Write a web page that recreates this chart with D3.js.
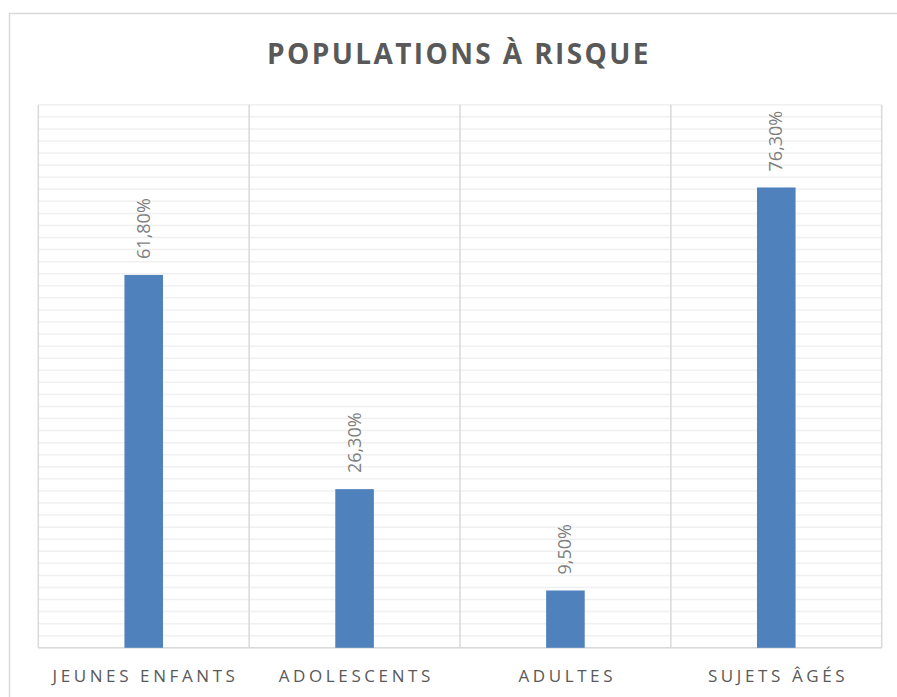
<!DOCTYPE html>
<html>
<head>
<meta charset="utf-8">
<script src="https://cdn.jsdelivr.net/npm/d3@7"></script>
<style>
  body { margin: 0; background: #fff; }
  svg { display: block; }
</style>
</head>
<body>
<div id="chart"></div>
<script>
const title = 'POPULATIONS À RISQUE'
const categories = ['JEUNES ENFANTS', 'ADOLESCENTS', 'ADULTES', 'SUJETS ÂGÉS']
const values = [61.8, 26.3, 9.5, 76.3]
const yMax = 90
const yStep = 2

const width = 897
const height = 697
const plot = { left: 38.3, right: 881.7, top: 104.8, bottom: 647.8 }

const fr = d3.formatLocale({ decimal: ',', thousands: ' ', grouping: [3], currency: ['', ' €'] })
const fmt = v => fr.format('.2f')(v) + '%'

const svg = d3.select('#chart').append('svg')
  .attr('width', width)
  .attr('height', height)

// chart border
svg.append('rect')
  .attr('x', 9.5).attr('y', 13.5)
  .attr('width', width + 20).attr('height', height + 20)
  .attr('fill', '#fff')
  .attr('stroke', '#d9d9d9')
  .attr('stroke-width', 1.5)

const x = d3.scaleBand()
  .domain(categories)
  .range([plot.left, plot.right])
  .paddingInner(0)
  .paddingOuter(0)

const y = d3.scaleLinear()
  .domain([0, yMax])
  .range([plot.bottom, plot.top])

const yTicks = d3.range(0, yMax + yStep / 2, yStep)

// horizontal gridlines
svg.append('g')
  .selectAll('line')
  .data(yTicks)
  .join('line')
  .attr('x1', plot.left).attr('x2', plot.right)
  .attr('y1', d => y(d)).attr('y2', d => y(d))
  .attr('stroke', '#f0f0f0')
  .attr('stroke-width', 1.5)

// vertical gridlines at category boundaries
const bounds = categories.map(c => x(c)).concat([plot.right])
svg.append('g')
  .selectAll('line')
  .data(bounds)
  .join('line')
  .attr('x1', d => d).attr('x2', d => d)
  .attr('y1', plot.top).attr('y2', plot.bottom)
  .attr('stroke', '#d9d9d9')
  .attr('stroke-width', 1.5)

// category axis
svg.append('line')
  .attr('x1', plot.left).attr('x2', plot.right)
  .attr('y1', plot.bottom).attr('y2', plot.bottom)
  .attr('stroke', '#d9d9d9')
  .attr('stroke-width', 1.5)

const barW = x.bandwidth() * 0.183

svg.append('g')
  .selectAll('rect')
  .data(values)
  .join('rect')
  .attr('x', (d, i) => x(categories[i]) + x.bandwidth() / 2 - barW / 2)
  .attr('y', d => y(d))
  .attr('width', barW)
  .attr('height', d => y(0) - y(d))
  .attr('fill', '#4f81bd')

// data labels
svg.append('g')
  .selectAll('text')
  .data(values)
  .join('text')
  .attr('transform', (d, i) => 'translate(' + [x(categories[i]) + x.bandwidth() / 2 + 6, y(d) - 16] + ') rotate(-90)')
  .attr('font-family', 'Open Sans')
  .attr('font-size', 18)
  .attr('fill', '#7f7f7f')
  .text(d => fmt(d))

// category labels
const ls = 3.6
svg.append('g')
  .selectAll('text')
  .data(categories)
  .join('text')
  .attr('x', d => x(d) + x.bandwidth() / 2 + ls / 2)
  .attr('y', 682)
  .attr('text-anchor', 'middle')
  .attr('font-family', 'Open Sans')
  .attr('font-size', 17)
  .attr('letter-spacing', ls)
  .attr('fill', '#595959')
  .text(d => d)

svg.append('text')
  .attr('x', 459)
  .attr('y', 64)
  .attr('text-anchor', 'middle')
  .attr('font-family', 'Open Sans')
  .attr('font-weight', 'bold')
  .attr('font-size', 28)
  .attr('letter-spacing', 2.4)
  .attr('fill', '#595959')
  .text(title)
</script>
</body>
</html>
